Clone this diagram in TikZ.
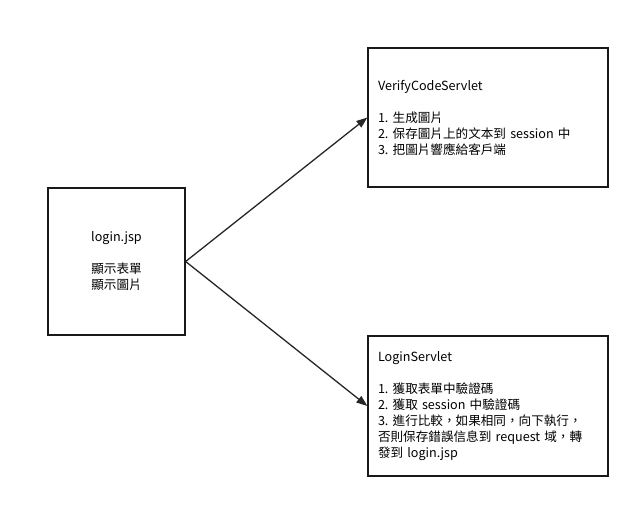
\documentclass[tikz,border=0pt]{standalone}
\usepackage{fontspec}
\setmainfont{Noto Sans CJK TC}
\usetikzlibrary{arrows.meta}
\frenchspacing
\begin{document}
\begin{tikzpicture}[x=1pt,y=-1pt,
    box/.style={draw=black!90,line width=1.3pt,inner xsep=10pt,inner ysep=0pt,font=\fontsize{12.6}{16}\selectfont},
    link/.style={-{Triangle[length=11pt,width=8pt]},line width=1.3pt,draw=black!85}]
    \useasboundingbox (0,0) rectangle (641,508);
    \node (jsp) [box,align=center,minimum width=137pt,minimum height=147pt] at (116.5,261.5)
        {login.jsp\\[16pt]顯示表單\\顯示圖片};
    \node (verify) [box,align=left,text width=220pt,minimum height=139pt] at (488,117.5)
        {VerifyCodeServlet\\[16pt]1. 生成圖片\\2. 保存圖片上的文本到 session 中\\3. 把圖片響應給客戶端};
    \node (login) [box,align=left,text width=220pt,minimum height=140pt] at (488,406)
        {LoginServlet\\[16pt]1. 獲取表單中驗證碼\\2. 獲取 session 中驗證碼\\3. 進行比較，如果相同，向下執行，\\否則保存錯誤信息到 request 域，轉\\發到 login.jsp};
    \draw [link] (jsp.east) -- (verify.west);
    \draw [link] (jsp.east) -- (login.west);
\end{tikzpicture}
\end{document}
